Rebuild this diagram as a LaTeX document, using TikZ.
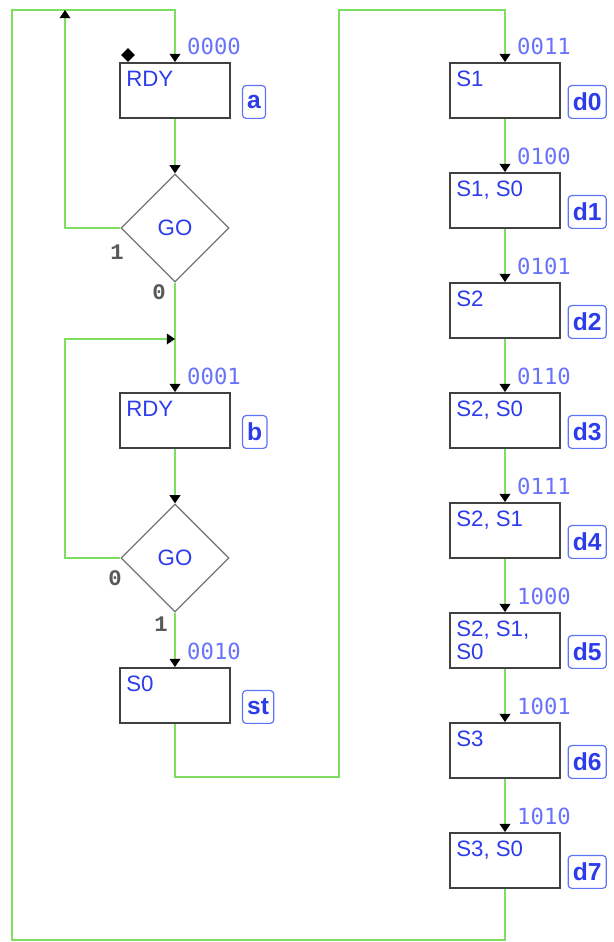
\documentclass[tikz,border=0pt]{standalone}
\usepackage{fontspec}
\setmainfont{Liberation Sans}
\newfontfamily\codefont{DejaVu Sans Mono}
\newfontfamily\bitfont{Liberation Mono}
\usetikzlibrary{arrows.meta,shapes.geometric}
\definecolor{wire}{RGB}{125,222,95}
\definecolor{txtblue}{RGB}{45,60,235}
\definecolor{codeblue}{RGB}{105,115,250}
\definecolor{tagblue}{RGB}{95,115,245}
\begin{document}
\begin{tikzpicture}[
    x=0.03cm, y=-0.03cm,
    state/.style={rectangle, draw=black!75, line width=1.6pt, minimum width=3.3cm, minimum height=1.65cm, inner sep=0pt},
    test/.style={diamond, draw=black!55, line width=1pt, minimum width=3.24cm, minimum height=3.24cm, inner sep=0pt, text=txtblue, font=\fontsize{19}{20}\selectfont},
    outs/.style={anchor=north west, inner sep=0pt, text=txtblue, align=left, font=\fontsize{19}{19.5}\selectfont},
    code/.style={anchor=south west, inner sep=0pt, text=codeblue, font=\codefont\fontsize{19}{20}\selectfont},
    tag/.style={draw=tagblue, rounded corners=3pt, line width=1pt, text=txtblue, font=\bfseries\fontsize{21}{21}\selectfont, inner xsep=4pt, minimum height=28pt, anchor=south west},
    bit/.style={inner sep=0pt, text=black!65, font=\bitfont\bfseries\fontsize{19}{20}\selectfont},
    link/.style={draw=wire, line width=1.7pt},
    arr/.style={-{Triangle[color=black, width=9pt, length=7pt]}}
]
    \fill[white] (0,0) rectangle (614,942);

    % Wait-for-GO part
    \node[state] (a) at (175,90.5) {};
    \node[outs] (oa) at ([xshift=0.21cm, yshift=-0.27cm]a.north west) {RDY};
    \node[code] (ca) at ([xshift=0.36cm, yshift=0.2cm]a.north) {0000};
    \node[tag] (ta) at ([xshift=0.33cm]a.south east) {a};
    \node[diamond, fill=black, minimum size=12pt, inner sep=0pt] (init) at (128,55) {};
    \node[test] (ga) at (175,228) {GO};
    \node[bit] (ga1) at (117,252) {1};
    \node[bit] (ga0) at (159,292) {0};

    \node[state] (b) at (175,420.5) {};
    \node[outs] (ob) at ([xshift=0.21cm, yshift=-0.27cm]b.north west) {RDY};
    \node[code] (cb) at ([xshift=0.36cm, yshift=0.2cm]b.north) {0001};
    \node[tag] (tb) at ([xshift=0.33cm]b.south east) {b};
    \node[test] (gb) at (175,558) {GO};
    \node[bit] (gb0) at (115,578) {0};
    \node[bit] (gb1) at (161,624) {1};

    \node[state] (st) at (175,695.5) {};
    \node[outs] (ost) at ([xshift=0.21cm, yshift=-0.27cm]st.north west) {S0};
    \node[code] (cst) at ([xshift=0.36cm, yshift=0.2cm]st.north) {0010};
    \node[tag] (tst) at ([xshift=0.33cm]st.south east) {st};

    % Counting part
    \node[state] (d0) at (505,90.5) {};
    \node[outs] (od0) at ([xshift=0.21cm, yshift=-0.27cm]d0.north west) {S1};
    \node[code] (cd0) at ([xshift=0.36cm, yshift=0.2cm]d0.north) {0011};
    \node[tag] (td0) at ([xshift=0.2cm]d0.south east) {d0};

    \node[state] (d1) at (505,200.5) {};
    \node[outs] (od1) at ([xshift=0.21cm, yshift=-0.27cm]d1.north west) {S1, S0};
    \node[code] (cd1) at ([xshift=0.36cm, yshift=0.2cm]d1.north) {0100};
    \node[tag] (td1) at ([xshift=0.2cm]d1.south east) {d1};

    \node[state] (d2) at (505,310.5) {};
    \node[outs] (od2) at ([xshift=0.21cm, yshift=-0.27cm]d2.north west) {S2};
    \node[code] (cd2) at ([xshift=0.36cm, yshift=0.2cm]d2.north) {0101};
    \node[tag] (td2) at ([xshift=0.2cm]d2.south east) {d2};

    \node[state] (d3) at (505,420.5) {};
    \node[outs] (od3) at ([xshift=0.21cm, yshift=-0.27cm]d3.north west) {S2, S0};
    \node[code] (cd3) at ([xshift=0.36cm, yshift=0.2cm]d3.north) {0110};
    \node[tag] (td3) at ([xshift=0.2cm]d3.south east) {d3};

    \node[state] (d4) at (505,530.5) {};
    \node[outs] (od4) at ([xshift=0.21cm, yshift=-0.27cm]d4.north west) {S2, S1};
    \node[code] (cd4) at ([xshift=0.36cm, yshift=0.2cm]d4.north) {0111};
    \node[tag] (td4) at ([xshift=0.2cm]d4.south east) {d4};

    \node[state] (d5) at (505,640.5) {};
    \node[outs] (od5) at ([xshift=0.21cm, yshift=-0.27cm]d5.north west) {S2, S1,\\S0};
    \node[code] (cd5) at ([xshift=0.36cm, yshift=0.2cm]d5.north) {1000};
    \node[tag] (td5) at ([xshift=0.2cm]d5.south east) {d5};

    \node[state] (d6) at (505,750.5) {};
    \node[outs] (od6) at ([xshift=0.21cm, yshift=-0.27cm]d6.north west) {S3};
    \node[code] (cd6) at ([xshift=0.36cm, yshift=0.2cm]d6.north) {1001};
    \node[tag] (td6) at ([xshift=0.2cm]d6.south east) {d6};

    \node[state] (d7) at (505,860.5) {};
    \node[outs] (od7) at ([xshift=0.21cm, yshift=-0.27cm]d7.north west) {S3, S0};
    \node[code] (cd7) at ([xshift=0.36cm, yshift=0.2cm]d7.north) {1010};
    \node[tag] (td7) at ([xshift=0.2cm]d7.south east) {d7};

    \coordinate (ma) at (65,10);
    \coordinate (mb) at (175,339);

    % Transitions
    \draw[link, arr] (d7.south) |- (12,940) -- (12,10) -| (a.north);
    \draw[link, arr] (ga.west) -| (ma);
    \draw[link, arr] (a.south) -- (ga.north);
    \draw[link, arr] (ga.south) -- (b.north);
    \draw[link, arr] (gb.west) -- (65,558) -- (65,339) -- (mb);
    \draw[link, arr] (b.south) -- (gb.north);
    \draw[link, arr] (gb.south) -- (st.north);
    \draw[link, arr] (st.south) |- (339,777) -- (339,10) -| (d0.north);
    \draw[link, arr] (d0.south) -- (d1.north);
    \draw[link, arr] (d1.south) -- (d2.north);
    \draw[link, arr] (d2.south) -- (d3.north);
    \draw[link, arr] (d3.south) -- (d4.north);
    \draw[link, arr] (d4.south) -- (d5.north);
    \draw[link, arr] (d5.south) -- (d6.north);
    \draw[link, arr] (d6.south) -- (d7.north);

\end{tikzpicture}
\end{document}
